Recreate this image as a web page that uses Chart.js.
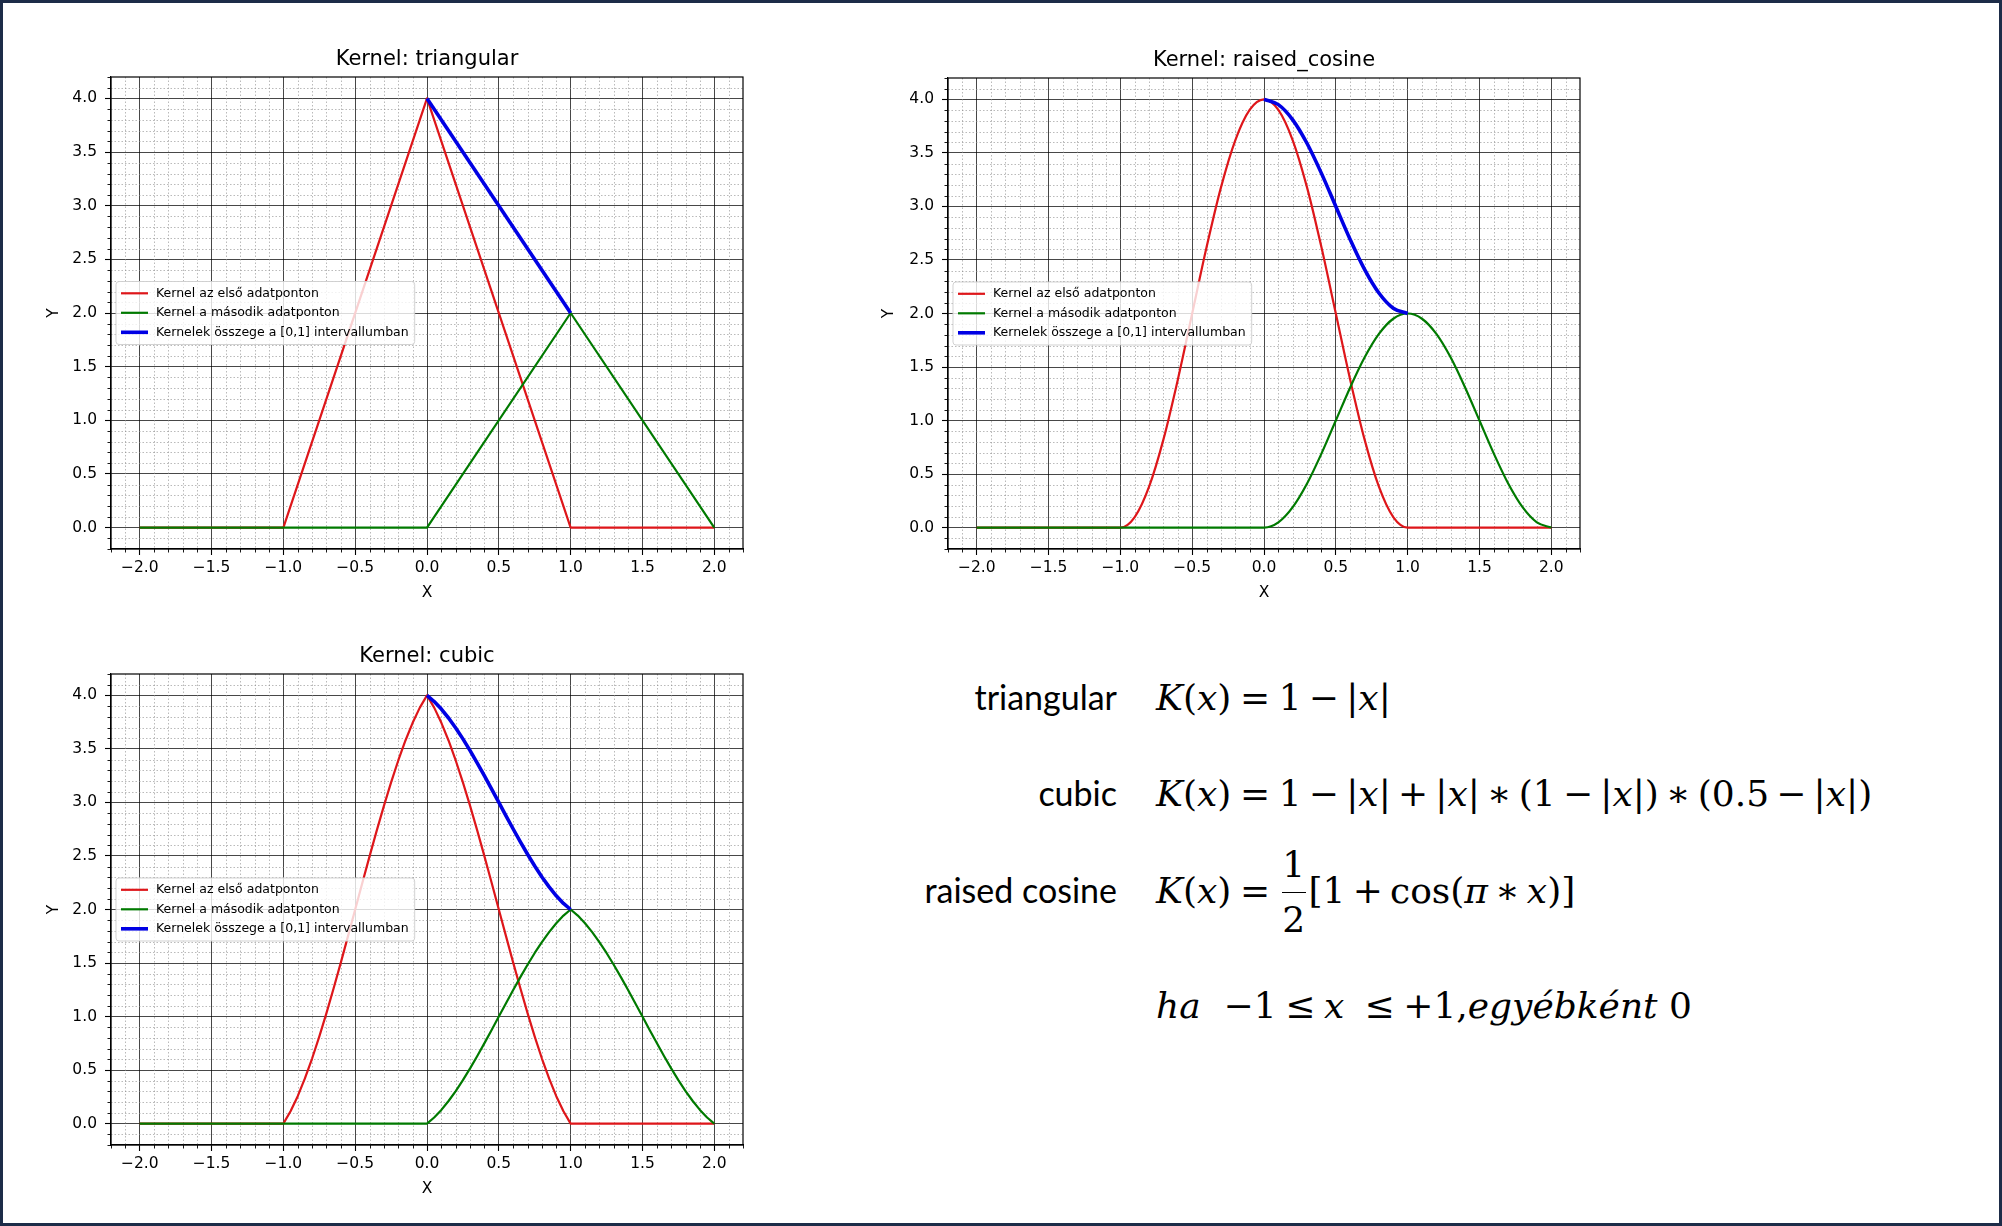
<!DOCTYPE html>
<html>
<head>
<meta charset="utf-8">
<title>Kernel functions</title>
<script src="https://cdn.jsdelivr.net/npm/chart.js@4.4.1/dist/chart.umd.min.js"></script>
<style>
  html, body { margin: 0; padding: 0; background: #fff; }
  #page { position: relative; width: 2002px; height: 1226px; background: #fff; overflow: hidden; }
  #frame { position: absolute; left: 0; top: 0; width: 2002px; height: 1226px; box-sizing: border-box;
           border: 3px solid #1d2c48; pointer-events: none; z-index: 5; }
  .plot { position: absolute; }
  .row { position: absolute; left: 857px; line-height: 120px; white-space: nowrap; color: #000;
         font-family: 'DejaVu Serif', serif; font-size: 36px; }
  .lbl { display: inline-block; width: 260px; margin-right: 39px; text-align: right;
         font-family: Lato, 'Open Sans', sans-serif; font-size: 34px; }
  .row i { font-style: italic; }
  .rel { padding: 0 0.24em; }
  .op { padding: 0 0.2em; }
  .frac { display: inline-flex; flex-direction: column; align-items: center; vertical-align: 26px; margin: 0 0.08em; }
  .frac span { line-height: 28px; }
  .frac .bar { width: 24px; height: 1.5px; background: #000; margin: 12.75px 0; }
</style>
</head>
<body>
<div id="page">
  <div class="plot" style="left:30px;top:30px;width:740px;height:570px"><canvas id="c-tri"></canvas></div>
  <div class="plot" style="left:865px;top:31px;width:740px;height:569px"><canvas id="c-cos"></canvas></div>
  <div class="plot" style="left:30px;top:627px;width:740px;height:569px"><canvas id="c-cub"></canvas></div>

  <div class="row" style="top:637px"><span class="lbl">triangular</span><i>K</i>(<i>x</i>)<span class="rel">=</span>1<span class="op">−</span>|<i>x</i>|</div>
  <div class="row" style="top:733px"><span class="lbl">cubic</span><i>K</i>(<i>x</i>)<span class="rel">=</span>1<span class="op">−</span>|<i>x</i>|<span class="op">+</span>|<i>x</i>|<span class="op">∗</span>(1<span class="op">−</span>|<i>x</i>|)<span class="op">∗</span>(0.5<span class="op">−</span>|<i>x</i>|)</div>
  <div class="row" style="top:830px"><span class="lbl">raised cosine</span><i>K</i>(<i>x</i>)<span class="rel">=</span><span class="frac"><span>1</span><span class="bar"></span><span>2</span></span>[1<span class="op">+</span>cos(<i>π</i><span class="op">∗</span><i>x</i>)]</div>
  <div class="row" style="top:946px"><span class="lbl"></span><i>ha</i>&nbsp;&nbsp;−1<span class="rel">≤</span><i>x</i>&nbsp;<span class="rel">≤</span>+1,<i>egyébként</i>&nbsp;0</div>

  <div id="frame"></div>
</div>

<script>
// axis ticks (shared by all three panels)
const xTicks = [-2.0, -1.5, -1.0, -0.5, 0.0, 0.5, 1.0, 1.5, 2.0];
const xTickLabels = ['−2.0', '−1.5', '−1.0', '−0.5', '0.0', '0.5', '1.0', '1.5', '2.0'];
const yTicks = [0.0, 0.5, 1.0, 1.5, 2.0, 2.5, 3.0, 3.5, 4.0];
const yTickLabels = ['0.0', '0.5', '1.0', '1.5', '2.0', '2.5', '3.0', '3.5', '4.0'];

const seriesLabels = [
    'Kernel az első adatponton',
    'Kernel a második adatponton',
    'Kernelek összege a [0,1] intervallumban'
];

// triangular kernel
const triRedX = [-2.0, -1.0, 0.0, 1.0, 2.0];
const triRedY = [0, 0, 4.0, 0, 0];
const triGreenX = [-2.0, 0.0, 1.0, 2.0];
const triGreenY = [0, 0, 2.0, 0];
const triBlueX = [0.0, 1.0];
const triBlueY = [4.0, 2.0];

// raised cosine kernel
const cosRedX = [-2.0, -1.0, -0.9, -0.8, -0.7, -0.6, -0.5, -0.4, -0.3, -0.2, -0.1, 0.0,
                 0.1, 0.2, 0.3, 0.4, 0.5, 0.6, 0.7, 0.8, 0.9, 1.0, 2.0];
const cosRedY = [0, 0, 0.098, 0.382, 0.824, 1.382, 2.0, 2.618, 3.176, 3.618, 3.902, 4.0,
                 3.902, 3.618, 3.176, 2.618, 2.0, 1.382, 0.824, 0.382, 0.098, 0, 0];
const cosGreenX = [-2.0, 0.0, 0.1, 0.2, 0.3, 0.4, 0.5, 0.6, 0.7, 0.8, 0.9, 1.0,
                   1.1, 1.2, 1.3, 1.4, 1.5, 1.6, 1.7, 1.8, 1.9, 2.0];
const cosGreenY = [0, 0, 0.049, 0.191, 0.412, 0.691, 1.0, 1.309, 1.588, 1.809, 1.951, 2.0,
                   1.951, 1.809, 1.588, 1.309, 1.0, 0.691, 0.412, 0.191, 0.049, 0];
const cosBlueX = [0.0, 0.1, 0.2, 0.3, 0.4, 0.5, 0.6, 0.7, 0.8, 0.9, 1.0];
const cosBlueY = [4.0, 3.951, 3.809, 3.588, 3.309, 3.0, 2.691, 2.412, 2.191, 2.049, 2.0];

// cubic kernel
const cubRedX = [-2.0, -1.0, -0.95, -0.9, -0.85, -0.8, -0.75, -0.7, -0.65, -0.6, -0.55, -0.5,
                 -0.45, -0.4, -0.35, -0.3, -0.25, -0.2, -0.15, -0.1, -0.05, 0.0,
                 0.05, 0.1, 0.15, 0.2, 0.25, 0.3, 0.35, 0.4, 0.45, 0.5,
                 0.55, 0.6, 0.65, 0.7, 0.75, 0.8, 0.85, 0.9, 0.95, 1.0, 2.0];
const cubRedY = [0, 0, 0.115, 0.256, 0.422, 0.608, 0.813, 1.032, 1.264, 1.504, 1.751, 2.0,
                 2.250, 2.496, 2.737, 2.968, 3.188, 3.392, 3.579, 3.744, 3.886, 4.0,
                 3.886, 3.744, 3.579, 3.392, 3.188, 2.968, 2.737, 2.496, 2.250, 2.0,
                 1.751, 1.504, 1.264, 1.032, 0.813, 0.608, 0.422, 0.256, 0.115, 0, 0];
const cubGreenX = [-2.0, 0.0, 0.05, 0.1, 0.15, 0.2, 0.25, 0.3, 0.35, 0.4, 0.45, 0.5,
                   0.55, 0.6, 0.65, 0.7, 0.75, 0.8, 0.85, 0.9, 0.95, 1.0,
                   1.05, 1.1, 1.15, 1.2, 1.25, 1.3, 1.35, 1.4, 1.45, 1.5,
                   1.55, 1.6, 1.65, 1.7, 1.75, 1.8, 1.85, 1.9, 1.95, 2.0];
const cubGreenY = [0, 0, 0.057, 0.128, 0.211, 0.304, 0.406, 0.516, 0.632, 0.752, 0.875, 1.0,
                   1.125, 1.248, 1.368, 1.484, 1.594, 1.696, 1.789, 1.872, 1.943, 2.0,
                   1.943, 1.872, 1.789, 1.696, 1.594, 1.484, 1.368, 1.248, 1.125, 1.0,
                   0.875, 0.752, 0.632, 0.516, 0.406, 0.304, 0.211, 0.128, 0.057, 0];
const cubBlueX = [0.0, 0.05, 0.1, 0.15, 0.2, 0.25, 0.3, 0.35, 0.4, 0.45, 0.5,
                  0.55, 0.6, 0.65, 0.7, 0.75, 0.8, 0.85, 0.9, 0.95, 1.0];
const cubBlueY = [4.0, 3.943, 3.872, 3.789, 3.696, 3.594, 3.484, 3.368, 3.248, 3.125, 3.0,
                  2.875, 2.752, 2.632, 2.516, 2.406, 2.304, 2.211, 2.128, 2.057, 2.0];

const lineColors = ['rgb(222,22,26)', 'rgb(0,122,0)', 'rgb(0,0,228)'];
const lineWidths = [2.2, 2.2, 3.6];
const tickFont = { family: 'DejaVu Sans', size: 15.5 };

// minor grid, minor ticks, full frame, title over the plot area and a "center left" legend
const mplLook = {
    id: 'mplLook',
    beforeDatasetsDraw(chart) {
        const { ctx, chartArea: a, scales: { x, y } } = chart;
        ctx.save();
        ctx.strokeStyle = 'rgba(140,140,140,0.75)';
        ctx.lineWidth = 0.8;
        ctx.setLineDash([1.5, 2]);
        ctx.beginPath();
        for (let k = -21; k <= 21; k++) {
            if (k % 5 === 0) continue;
            const px = Math.round(x.getPixelForValue(k / 10)) + 0.5;
            ctx.moveTo(px, a.top); ctx.lineTo(px, a.bottom);
        }
        for (let k = -1; k <= 41; k++) {
            if (k % 5 === 0) continue;
            const py = Math.round(y.getPixelForValue(k / 10)) + 0.5;
            ctx.moveTo(a.left, py); ctx.lineTo(a.right, py);
        }
        ctx.stroke();
        ctx.setLineDash([]);
        ctx.strokeStyle = '#000';
        ctx.lineWidth = 0.9;
        ctx.beginPath();
        for (let k = -22; k <= 22; k++) {
            if (k % 5 === 0) continue;
            const px = Math.round(x.getPixelForValue(k / 10)) + 0.5;
            ctx.moveTo(px, a.bottom); ctx.lineTo(px, a.bottom + 3.5);
        }
        for (let k = -2; k <= 42; k++) {
            if (k % 5 === 0) continue;
            const py = Math.round(y.getPixelForValue(k / 10)) + 0.5;
            ctx.moveTo(a.left, py); ctx.lineTo(a.left - 3.5, py);
        }
        ctx.stroke();
        ctx.restore();
    },
    afterDatasetsDraw(chart) {
        const { ctx, chartArea: a } = chart;
        ctx.save();
        ctx.strokeStyle = '#000';
        ctx.lineWidth = 1.2;
        ctx.strokeRect(a.left, a.top, a.right - a.left, a.bottom - a.top);
        ctx.restore();
    },
    afterDraw(chart, args, opts) {
        const { ctx, chartArea: a } = chart;
        const sets = chart.data.datasets;
        ctx.save();
        // panel title, centred over the axes like matplotlib
        ctx.font = '21px "DejaVu Sans"';
        ctx.fillStyle = '#000';
        ctx.textAlign = 'center';
        ctx.textBaseline = 'alphabetic';
        ctx.fillText(opts.title, (a.left + a.right) / 2, a.top - 12);

        ctx.textAlign = 'left';
        ctx.font = '12.5px "DejaVu Sans"';
        const textW = Math.max(...sets.map(d => ctx.measureText(d.label).width));
        const boxX = a.left + 5;
        const boxH = 63;
        const boxY = (a.top + a.bottom) / 2 - boxH / 2;
        const boxW = 40 + textW + 6;
        ctx.fillStyle = 'rgba(255,255,255,0.8)';
        ctx.strokeStyle = 'rgba(205,205,205,0.9)';
        ctx.lineWidth = 1;
        ctx.beginPath();
        ctx.roundRect(boxX, boxY, boxW, boxH, 3);
        ctx.fill();
        ctx.stroke();
        sets.forEach((d, i) => {
            const cy = boxY + 11.8 + i * 19.5;
            ctx.strokeStyle = d.borderColor;
            ctx.lineWidth = d.borderWidth;
            ctx.beginPath();
            ctx.moveTo(boxX + 5, cy); ctx.lineTo(boxX + 32, cy);
            ctx.stroke();
            ctx.fillStyle = '#000';
            ctx.textBaseline = 'middle';
            ctx.fillText(d.label, boxX + 40, cy);
        });
        ctx.restore();
    }
};

function kernelChart(canvasId, title, series, smooth, axisWidth, padRight) {
    const datasets = series.map((s, i) => ({
        label: seriesLabels[i],
        data: s.x.map((x, j) => ({ x: x, y: s.y[j] })),
        borderColor: lineColors[i],
        borderWidth: lineWidths[i],
        pointRadius: 0,
        fill: false,
        tension: 0,
        cubicInterpolationMode: smooth ? 'monotone' : 'default',
        borderJoinStyle: 'round',
        order: 3 - i
    }));

    return new Chart(document.getElementById(canvasId), {
        type: 'line',
        data: { datasets: datasets },
        plugins: [mplLook],
        options: {
            responsive: true,
            maintainAspectRatio: false,
            animation: false,
            layout: { padding: { left: 0, right: padRight, top: 47, bottom: 0 } },
            plugins: {
                legend: { display: false },
                tooltip: { enabled: false },
                title: { display: false },
                mplLook: { title: title }
            },
            scales: {
                x: {
                    type: 'linear',
                    min: -2.2,
                    max: 2.2,
                    afterBuildTicks: ax => { ax.ticks = xTicks.map(v => ({ value: v })); },
                    afterFit: ax => { ax.height = 51; },
                    ticks: {
                        color: '#000', font: tickFont, padding: 4, maxRotation: 0, autoSkip: false,
                        callback: v => xTickLabels[xTicks.indexOf(v)]
                    },
                    grid: { color: 'rgba(0,0,0,0.72)', lineWidth: 1, tickLength: 6, tickColor: '#000', tickWidth: 1.1 },
                    border: { display: true, color: '#000', width: 1.2 },
                    title: { display: true, text: 'X', color: '#000', font: tickFont, padding: { top: 0, bottom: -2 } }
                },
                y: {
                    type: 'linear',
                    min: -0.2,
                    max: 4.2,
                    afterBuildTicks: ax => { ax.ticks = yTicks.map(v => ({ value: v })); },
                    afterFit: ax => { ax.width = axisWidth; },
                    ticks: {
                        color: '#000', font: tickFont, padding: 8, autoSkip: false,
                        callback: v => yTickLabels[yTicks.indexOf(v)]
                    },
                    grid: { color: 'rgba(0,0,0,0.72)', lineWidth: 1, tickLength: 6, tickColor: '#000', tickWidth: 1.1 },
                    border: { display: true, color: '#000', width: 1.2 },
                    title: { display: true, text: 'Y', color: '#000', font: tickFont, padding: { top: 14.5, bottom: 0 } }
                }
            }
        }
    });
}

kernelChart('c-tri', 'Kernel: triangular', [
    { x: triRedX, y: triRedY },
    { x: triGreenX, y: triGreenY },
    { x: triBlueX, y: triBlueY }
], false, 81, 27);

kernelChart('c-cos', 'Kernel: raised_cosine', [
    { x: cosRedX, y: cosRedY },
    { x: cosGreenX, y: cosGreenY },
    { x: cosBlueX, y: cosBlueY }
], true, 83, 25);

kernelChart('c-cub', 'Kernel: cubic', [
    { x: cubRedX, y: cubRedY },
    { x: cubGreenX, y: cubGreenY },
    { x: cubBlueX, y: cubBlueY }
], false, 81, 27);
</script>
</body>
</html>
